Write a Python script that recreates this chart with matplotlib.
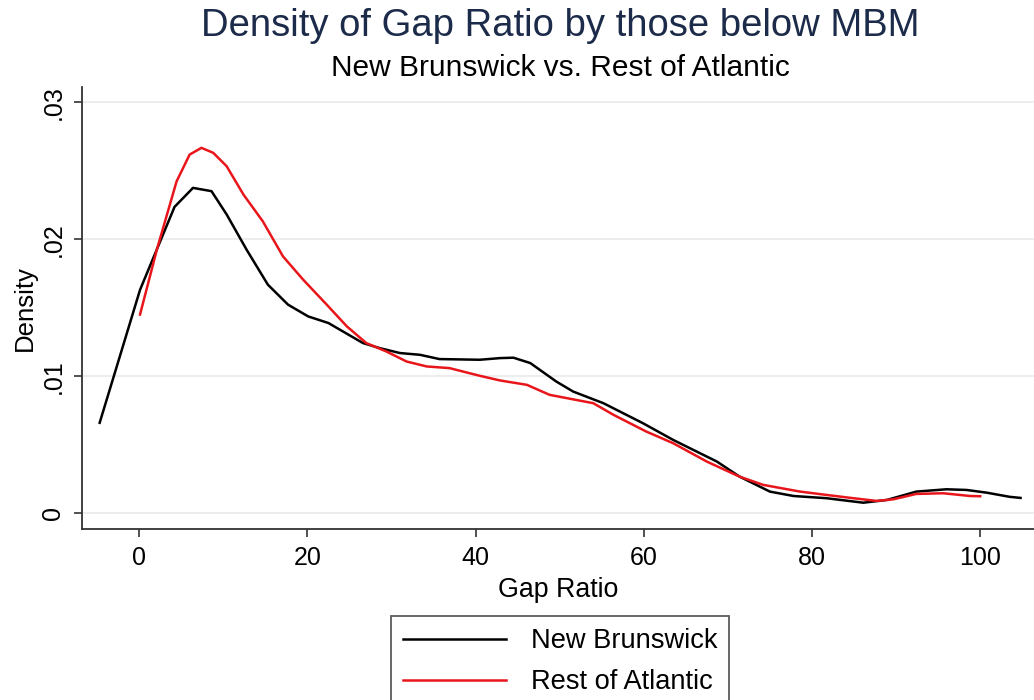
import matplotlib
matplotlib.use("Agg")
import matplotlib.pyplot as plt

plt.rcParams["font.family"] = ["Liberation Sans", "DejaVu Sans"]

# New Brunswick density curve
nb_x = [-4.7, 0.1, 4.2, 6.4, 8.6, 10.4, 12.8, 15.3, 17.7, 20.1, 22.5, 26.6,
        28.6, 31.0, 33.4, 35.7, 40.5, 42.9, 44.5, 46.5, 49.6, 51.6, 55.2,
        59.9, 63.5, 68.7, 71.4, 75.0, 77.8, 81.7, 86.1, 88.9, 92.4, 96.0,
        98.4, 100.8, 103.5, 104.8]
nb_y = [0.0066, 0.0163, 0.02235, 0.02374, 0.0235, 0.0218, 0.0192, 0.01668,
        0.01522, 0.01436, 0.01388, 0.01242, 0.01205, 0.01169, 0.01156,
        0.01125, 0.01120, 0.01132, 0.01135, 0.01096, 0.00961, 0.00888,
        0.00803, 0.00657, 0.00535, 0.00377, 0.00267, 0.00158, 0.00126,
        0.00110, 0.00077, 0.00097, 0.00158, 0.00175, 0.0017, 0.0015,
        0.00120, 0.00112]

# Rest of Atlantic density curve
ra_x = [0.1, 2.1, 4.45, 6.0, 7.4, 8.8, 10.4, 12.4, 14.7, 17.1, 19.5, 22.3,
        24.7, 27.0, 29.4, 31.8, 34.2, 36.9, 40.5, 42.9, 46.1, 48.8, 54.0,
        56.4, 60.3, 63.5, 67.5, 71.4, 74.2, 78.6, 81.7, 84.9, 87.7, 89.7,
        92.4, 95.6, 98.8, 100.0]
ra_y = [0.0145, 0.01923, 0.02422, 0.02617, 0.02666, 0.0263, 0.02532,
        0.02325, 0.0213, 0.01874, 0.01704, 0.01522, 0.01363, 0.01242,
        0.0118, 0.01107, 0.01071, 0.01059, 0.01003, 0.00969, 0.00937,
        0.00864, 0.00803, 0.00718, 0.00596, 0.00511, 0.00377, 0.00267,
        0.00207, 0.00158, 0.00134, 0.0011, 0.0009, 0.00102, 0.00141,
        0.00146, 0.00126, 0.00124]

x_ticks = [0, 20, 40, 60, 80, 100]
y_ticks = [0, 0.01, 0.02, 0.03]
y_tick_labels = ["0", ".01", ".02", ".03"]

AXIS = "#333333"

fig = plt.figure(figsize=(10.34, 7.0), dpi=100)
ax = fig.add_axes([82 / 1034, 1 - 529.3 / 700, (1034 - 82) / 1034, (529.3 - 87) / 700])

ax.plot(nb_x, nb_y, color="black", lw=1.8, label="New Brunswick", zorder=3)
ax.plot(ra_x, ra_y, color="#e8161b", lw=1.8, label="Rest of Atlantic", zorder=3)

ax.set_xlim(-6.8, 106.4)
ax.set_ylim(-0.00117, 0.0311)
ax.set_xticks(x_ticks)
ax.set_yticks(y_ticks)
ax.set_yticklabels(y_tick_labels, rotation=90, va="center")
ax.grid(axis="y", color="#eaeaea", lw=1.2, zorder=0)

for side in ["top", "right"]:
    ax.spines[side].set_visible(False)
for side in ["left", "bottom"]:
    ax.spines[side].set_color(AXIS)
    ax.spines[side].set_linewidth(1.3)
ax.tick_params(colors=AXIS, length=6, width=1.2, labelsize=18, pad=6)
ax.tick_params(axis="y", labelcolor="black")
ax.tick_params(axis="x", labelcolor="black")

ax.set_xlabel("Gap Ratio", fontsize=19.3, labelpad=5)
ax.set_ylabel("Density", fontsize=18.5, labelpad=3)

fig.text(560 / 1034, 1 - 26 / 700, "Density of Gap Ratio by those below MBM",
         ha="center", va="center", fontsize=27.5, color="#1c2b4a")
fig.text(560 / 1034, 1 - 68 / 700, "New Brunswick vs. Rest of Atlantic",
         ha="center", va="center", fontsize=21.5, color="black")

leg = fig.legend(loc="upper center", bbox_to_anchor=(560 / 1034, 1 - 616 / 700),
                 fontsize=19.6, frameon=True, fancybox=False, edgecolor=AXIS,
                 handlelength=3.8, handletextpad=0.9, borderpad=0.45,
                 labelspacing=0.55, borderaxespad=0)
leg.get_frame().set_linewidth(1.3)

fig.savefig("out.png", dpi=100)
